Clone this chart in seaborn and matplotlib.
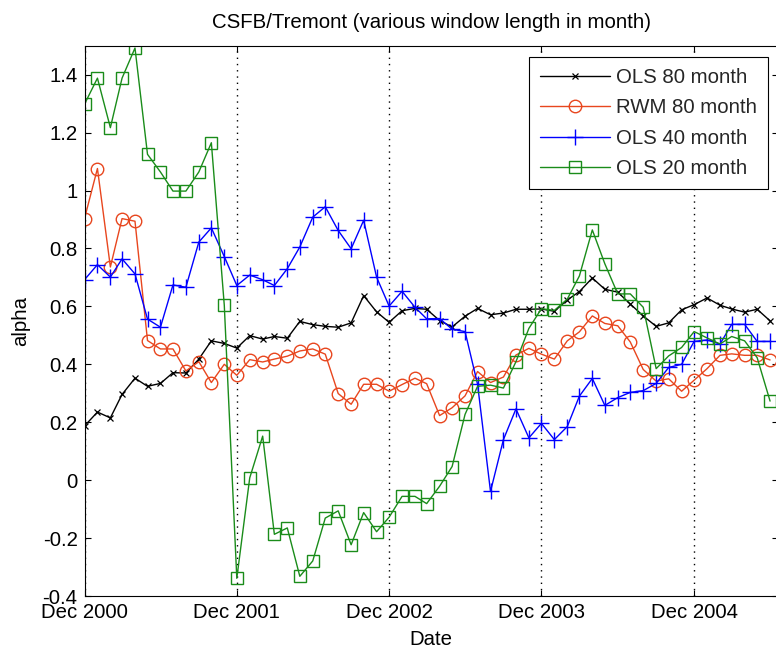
import numpy as np
import pandas as pd
import matplotlib
matplotlib.use("Agg")
import matplotlib.pyplot as plt
from matplotlib.ticker import FuncFormatter
import seaborn as sns

# ---------------- data ----------------
dates = pd.date_range("2000-12-01", periods=55, freq="MS")

ols80 = [0.187, 0.235, 0.215, 0.296, 0.352, 0.324, 0.334, 0.371, 0.370, 0.418,
         0.481, 0.472, 0.456, 0.499, 0.487, 0.496, 0.490, 0.548, 0.537, 0.531,
         0.528, 0.543, 0.637, 0.581, 0.545, 0.585, 0.593, 0.590, 0.551, 0.529,
         0.566, 0.593, 0.571, 0.577, 0.590, 0.590, 0.591, 0.583, 0.622, 0.651,
         0.698, 0.659, 0.649, 0.608, 0.567, 0.531, 0.543, 0.588, 0.606, 0.629,
         0.604, 0.591, 0.580, 0.590, 0.550]

rwm80 = [0.903, 1.076, 0.736, 0.903, 0.894, 0.482, 0.453, 0.453, 0.377, 0.409,
         0.337, 0.400, 0.362, 0.416, 0.408, 0.418, 0.428, 0.446, 0.453, 0.435,
         0.299, 0.262, 0.331, 0.331, 0.307, 0.330, 0.352, 0.333, 0.223, 0.250,
         0.291, 0.375, 0.337, 0.356, 0.432, 0.455, 0.435, 0.418, 0.481, 0.512,
         0.567, 0.541, 0.533, 0.477, 0.382, 0.342, 0.350, 0.307, 0.345, 0.385,
         0.431, 0.436, 0.431, 0.431, 0.415]

ols40 = [0.692, 0.744, 0.701, 0.764, 0.712, 0.556, 0.528, 0.674, 0.666, 0.822,
         0.871, 0.772, 0.672, 0.708, 0.692, 0.672, 0.730, 0.805, 0.908, 0.944,
         0.862, 0.799, 0.897, 0.701, 0.601, 0.652, 0.597, 0.557, 0.558, 0.521,
         0.513, 0.331, -0.039, 0.140, 0.246, 0.146, 0.196, 0.140, 0.185, 0.290,
         0.351, 0.258, 0.285, 0.303, 0.309, 0.334, 0.389, 0.400, 0.479, 0.484,
         0.470, 0.538, 0.538, 0.479, 0.479]

ols20 = [1.298, 1.388, 1.217, 1.388, 1.492, 1.125, 1.064, 0.998, 0.998, 1.064,
         1.165, 0.604, -0.339, 0.008, 0.152, -0.187, -0.165, -0.332, -0.279, -0.131,
         -0.106, -0.223, -0.112, -0.178, -0.128, -0.056, -0.056, -0.081, -0.021, 0.047,
         0.227, 0.324, 0.328, 0.318, 0.409, 0.524, 0.592, 0.586, 0.625, 0.705,
         0.864, 0.747, 0.643, 0.643, 0.597, 0.385, 0.429, 0.458, 0.513, 0.491,
         0.470, 0.496, 0.481, 0.423, 0.273]

series_names = ["OLS 80 month", "RWM 80 month", "OLS 40 month", "OLS 20 month"]
tick_dates = pd.to_datetime(["2000-12-01", "2001-12-01", "2002-12-01",
                             "2003-12-01", "2004-12-01"])
tick_labels = ["Dec 2000", "Dec 2001", "Dec 2002", "Dec 2003", "Dec 2004"]
yticks = [-0.4, -0.2, 0.0, 0.2, 0.4, 0.6, 0.8, 1.0, 1.2, 1.4]

# ---------------- style ----------------
sns.set_theme(style="white")
plt.rcParams['font.family'] = ['Liberation Sans', 'DejaVu Sans']
FS = 14.7

fig = plt.figure(figsize=(7.76, 6.53), dpi=100)
W, H = 776.0, 653.0
ax = fig.add_axes([84.5 / W, 57.0 / H, 693.5 / W, 550.3 / H])

styles = [
    dict(color="black", marker="x", markersize=5, markeredgewidth=0.9,
         markeredgecolor="black"),
    dict(color="#e8461e", marker="o", markersize=9, markeredgewidth=1.0,
         markeredgecolor="#e8461e", markerfacecolor="none"),
    dict(color="#0000ff", marker="+", markersize=11, markeredgewidth=1.0,
         markeredgecolor="#0000ff"),
    dict(color="#1a8c1a", marker="s", markersize=9, markeredgewidth=1.0,
         markeredgecolor="#1a8c1a", markerfacecolor="none"),
]

for vals, name, st in zip([ols80, rwm80, ols40, ols20], series_names, styles):
    sns.lineplot(x=dates, y=vals, ax=ax, label=name, linewidth=1.0, **st)

ax.set_xlim(dates[0], pd.Timestamp("2005-06-20"))
ax.set_ylim(-0.4, 1.5)
ax.set_xticks(tick_dates)
ax.set_xticklabels(tick_labels)
ax.set_yticks(yticks)
ax.yaxis.set_major_formatter(FuncFormatter(lambda v, _: f"{v:g}"))

ax.xaxis.grid(True, linestyle=(0, (1, 3.5)), color="black", linewidth=1.0)
ax.yaxis.grid(False)

ax.tick_params(axis="both", which="major", direction="in", length=4, width=0.8,
               bottom=True, top=True, left=True, right=True,
               labelsize=FS, colors="black")
ax.tick_params(axis="x", pad=5)
ax.tick_params(axis="y", pad=5)
for sp in ax.spines.values():
    sp.set_visible(True)
    sp.set_color("black")
    sp.set_linewidth(0.8)

ax.set_title("CSFB/Tremont (various window length in month)", fontsize=FS,
             pad=13, color="black")
ax.set_xlabel("Date", fontsize=FS, labelpad=6, color="black")
ax.set_ylabel("alpha", fontsize=FS, labelpad=9, color="black")

leg = ax.legend(loc="upper right", bbox_to_anchor=(0.9856, 0.9795),
                borderaxespad=0, frameon=True, fancybox=False, edgecolor="black",
                framealpha=1, fontsize=FS, handlelength=3.4, numpoints=1,
                labelspacing=0.55, borderpad=0.55, handletextpad=0.3)
leg.get_frame().set_linewidth(0.8)

fig.savefig("out.png", dpi=100)
